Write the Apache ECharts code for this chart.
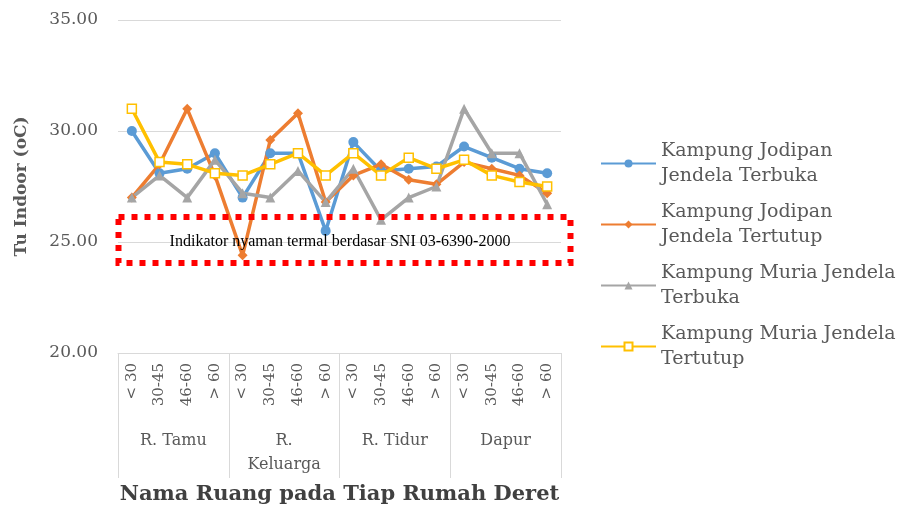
<!DOCTYPE html>
<html>
<head>
<meta charset="utf-8">
<script src="https://cdn.jsdelivr.net/npm/echarts@6/dist/echarts.min.js"></script>
<style>
  html, body { margin: 0; padding: 0; background: #fff; }
  #chart { width: 900px; height: 508px; }
</style>
</head>
<body>
<div id="chart"></div>
<script>
  // data
  const categories = ['< 30', '30-45', '46-60', '> 60', '< 30', '30-45', '46-60', '> 60',
                      '< 30', '30-45', '46-60', '> 60', '< 30', '30-45', '46-60', '> 60'];
  const rooms = ['R. Tamu', 'R.\nKeluarga', 'R. Tidur', 'Dapur'];
  const seriesNames = [
    'Kampung Jodipan\nJendela Terbuka',
    'Kampung Jodipan\nJendela Tertutup',
    'Kampung Muria Jendela\nTerbuka',
    'Kampung Muria Jendela\nTertutup',
  ];
  const jodipanBuka = [30.0, 28.1, 28.3, 29.0, 27.0, 29.0, 29.0, 25.5, 29.5, 28.2, 28.3, 28.4, 29.3, 28.8, 28.3, 28.1];
  const jodipanTutup = [27.0, 28.5, 31.0, 28.0, 24.4, 29.6, 30.8, 26.8, 28.0, 28.5, 27.8, 27.6, 28.6, 28.3, 28.0, 27.2];
  const muriaBuka = [27.0, 28.0, 27.0, 28.7, 27.2, 27.0, 28.2, 26.8, 28.3, 26.0, 27.0, 27.5, 31.0, 29.0, 29.0, 26.7];
  const muriaTutup = [31.0, 28.6, 28.5, 28.1, 28.0, 28.5, 29.0, 28.0, 29.0, 28.0, 28.8, 28.3, 28.7, 28.0, 27.7, 27.5];
  const yTicks = { min: 20, max: 35, interval: 5 };
  const noteText = 'Indikator nyaman termal berdasar SNI 03-6390-2000';

  const serif = 'DejaVu Serif';
  const grey = '#595959';
  const colors = ['#5B9BD5', '#ED7D31', '#A5A5A5', '#FFC000'];

  const chart = echarts.init(document.getElementById('chart'));

  const makeLine = (name, data, color, symbol, size, extra) => Object.assign({
    name: name,
    type: 'line',
    data: data,
    symbol: symbol,
    symbolSize: size,
    color: color,
    lineStyle: { width: 3.5, color: color },
    itemStyle: { color: color },
    z: 3,
  }, extra || {});

  const option = {
    animation: false,
    grid: { left: 118, right: 339, top: 20, bottom: 155, outerBoundsMode: 'none' },
    legend: {
      orient: 'vertical',
      left: 600,
      top: 126,
      padding: 0,
      itemWidth: 55,
      itemHeight: 10,
      itemGap: -14,
      textStyle: {
        fontFamily: serif,
        fontSize: 19,
        color: grey,
        lineHeight: 25,
        padding: [25, 0, 0, 0],
      },
    },
    xAxis: [
      {
        type: 'category',
        data: categories,
        position: 'bottom',
        axisLine: { show: false },
        axisTick: { show: false },
        axisLabel: {
          rotate: 90,
          interval: 0,
          margin: 10,
          fontFamily: serif,
          fontSize: 15,
          color: grey,
        },
      },
      {
        type: 'category',
        data: rooms,
        position: 'bottom',
        axisLine: { show: true, lineStyle: { color: '#D9D9D9', width: 1 } },
        axisTick: { show: true, length: 125, lineStyle: { color: '#D9D9D9', width: 1 } },
        axisLabel: {
          interval: 0,
          margin: 76,
          fontFamily: serif,
          fontSize: 16,
          lineHeight: 24,
          color: grey,
        },
        name: 'Nama Ruang pada Tiap Rumah Deret',
        nameLocation: 'middle',
        nameGap: 131,
        nameTextStyle: {
          fontFamily: serif,
          fontSize: 21,
          fontWeight: 'bold',
          color: '#404040',
        },
      },
    ],
    yAxis: {
      type: 'value',
      min: yTicks.min,
      max: yTicks.max,
      interval: yTicks.interval,
      axisLine: { show: false },
      axisTick: { show: false },
      splitLine: { lineStyle: { color: '#D9D9D9', width: 1 } },
      axisLabel: {
        margin: 20,
        fontFamily: serif,
        fontSize: 17,
        color: grey,
        formatter: (v) => v.toFixed(2),
      },
      name: 'Tu Indoor (oC)',
      nameLocation: 'middle',
      nameGap: 88,
      nameTextStyle: {
        fontFamily: serif,
        fontSize: 17,
        fontWeight: 'bold',
        color: grey,
      },
    },
    series: [
      makeLine(seriesNames[0], jodipanBuka, colors[0], 'circle', 10),
      makeLine(seriesNames[1], jodipanTutup, colors[1], 'diamond', 10),
      makeLine(seriesNames[2], muriaBuka, colors[2], 'triangle', 10),
      makeLine(seriesNames[3], muriaTutup, colors[3], 'rect', 9, {
        itemStyle: { color: '#fff', borderColor: colors[3], borderWidth: 1.5 },
      }),
    ],
    graphic: [
      {
        type: 'rect',
        shape: { x: 118.5, y: 217, width: 452, height: 46 },
        style: { fill: null, stroke: '#FF0000', lineWidth: 6, lineDash: [6, 7] },
        z: 10,
      },
      {
        type: 'text',
        x: 340,
        y: 242,
        style: {
          text: noteText,
          font: '16px "Liberation Serif"',
          fill: '#000',
          align: 'center',
          verticalAlign: 'middle',
        },
        z: 11,
      },
    ],
  };

  chart.setOption(option);
</script>
</body>
</html>
